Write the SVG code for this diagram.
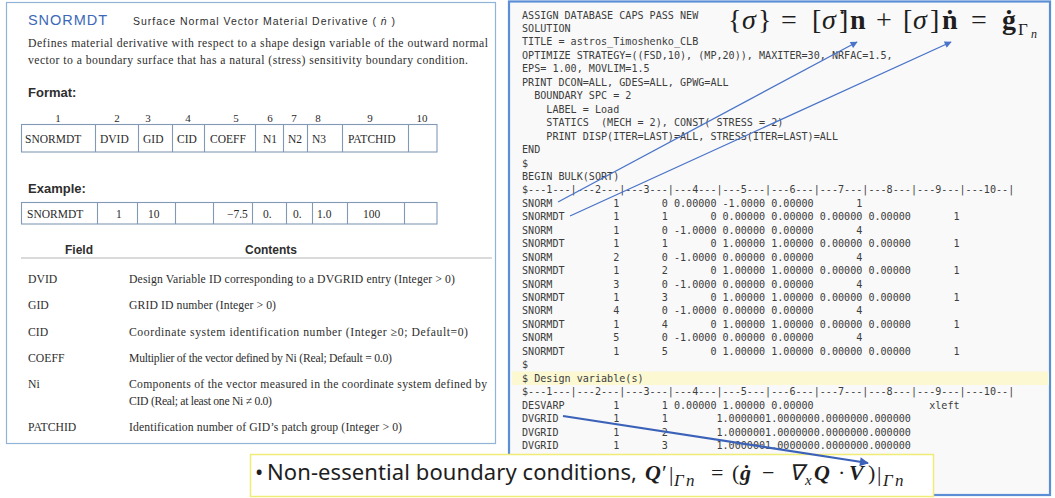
<svg xmlns="http://www.w3.org/2000/svg" width="1055" height="498" viewBox="0 0 1055 498">
<defs>
<style>
.serif{font-family:"Liberation Serif","Times New Roman",serif;fill:#2e2e2e}
.sans{font-family:"Liberation Sans",Arial,sans-serif;fill:#2e2e2e}
.row{font-family:"Liberation Serif","Times New Roman",serif;font-size:11.7px;fill:#2e2e2e}
.cell{font-family:"Liberation Serif","Times New Roman",serif;font-size:11.5px;fill:#2a2a2a}
.num{font-family:"Liberation Serif","Times New Roman",serif;font-size:11px;fill:#2a2a2a}
.tbl{fill:none;stroke:#8199b4;stroke-width:1.1}
.mono{font-family:"DejaVu Sans Mono","Liberation Mono",monospace;font-size:10.1px;fill:#3d3d3d;white-space:pre}
.math{font-family:"Liberation Serif","Times New Roman",serif;fill:#1e1e1e}
.bi{font-weight:bold;font-style:italic}
.it{font-style:italic}
.conn{fill:none;stroke:#4a74c8;stroke-width:1.3}
.conn2{fill:none;stroke:#3b62b8;stroke-width:2.2}
</style>
<marker id="ah" viewBox="0 0 10 10" refX="9" refY="5" markerWidth="9" markerHeight="7" orient="auto" markerUnits="userSpaceOnUse">
<path d="M0,0 L10,5 L0,10 z" fill="#4a74c8"/>
</marker>
<marker id="ah2" viewBox="0 0 10 10" refX="9" refY="5" markerWidth="12" markerHeight="9" orient="auto" markerUnits="userSpaceOnUse">
<path d="M0,0 L10,5 L0,10 z" fill="#3b62b8"/>
</marker>
<clipPath id="codeclip"><rect x="510" y="2" width="540" height="452"/></clipPath>
</defs>

<g id="left-panel">
<rect x="6.5" y="2.5" width="489" height="441" fill="#ffffff" stroke="#8fb4d6" stroke-width="1.2"/>
<text x="28" y="25" class="sans" font-size="14.5" style="fill:#3d68b8" textLength="79">SNORMDT</text>
<text x="133" y="25" class="sans" font-size="10.5" textLength="262">Surface Normal Vector Material Derivative ( <tspan font-style="italic">ṅ</tspan> )</text>
<text x="28" y="47" class="serif" font-size="11.7" textLength="460">Defines material derivative with respect to a shape design variable of the outward normal</text>
<text x="28" y="63.5" class="serif" font-size="11.7" textLength="440">vector to a boundary surface that has a natural (stress) sensitivity boundary condition.</text>
<text x="28" y="97" class="sans" font-size="13" font-weight="bold">Format:</text>
<g class="num" text-anchor="middle">
<text x="58" y="122">1</text><text x="117" y="122">2</text><text x="148" y="122">3</text><text x="188" y="122">4</text><text x="236" y="122">5</text><text x="270" y="122">6</text><text x="294" y="122">7</text><text x="318" y="122">8</text><text x="370" y="122">9</text><text x="422" y="122">10</text>
</g>
<rect class="tbl" x="21.5" y="124.5" width="415.5" height="27.5"/>
<path class="tbl" d="M95.5,124.5V152M138.5,124.5V152M172.5,124.5V152M204.5,124.5V152M255.5,124.5V152M283.5,124.5V152M307.5,124.5V152M342.5,124.5V152M408.5,124.5V152"/>
<g class="cell">
<text x="25" y="143">SNORMDT</text><text x="100" y="143">DVID</text><text x="143" y="143">GID</text><text x="177" y="143">CID</text><text x="210" y="143">COEFF</text><text x="263" y="143">N1</text><text x="288" y="143">N2</text><text x="312" y="143">N3</text><text x="348" y="143">PATCHID</text>
</g>
<text x="28" y="193" class="sans" font-size="13" font-weight="bold">Example:</text>
<rect class="tbl" x="21.5" y="202.5" width="415.5" height="21.5"/>
<path class="tbl" d="M97.5,202.5V224M137.5,202.5V224M175.5,202.5V224M213.5,202.5V224M252.5,202.5V224M286.5,202.5V224M312.5,202.5V224M347.5,202.5V224M404.5,202.5V224"/>
<g class="cell">
<text x="27" y="218">SNORMDT</text><text x="116" y="218">1</text><text x="148" y="218">10</text><text x="227" y="218">−7.5</text><text x="263" y="218">0.</text><text x="293" y="218">0.</text><text x="317" y="218">1.0</text><text x="363" y="218">100</text>
</g>
<text x="65" y="254" class="sans" font-size="12" font-weight="bold">Field</text>
<text x="245" y="254" class="sans" font-size="12" font-weight="bold">Contents</text>
<line x1="21" y1="258" x2="492" y2="258" stroke="#b5b5b5" stroke-width="1.2"/>
<g class="row">
<text x="28" y="283">DVID</text><text x="129" y="283" textLength="326">Design Variable ID corresponding to a DVGRID entry (Integer &gt; 0)</text>
<text x="28" y="309">GID</text><text x="129" y="309" textLength="147">GRID ID number (Integer &gt; 0)</text>
<text x="28" y="336">CID</text><text x="129" y="336" textLength="339">Coordinate system identification number (Integer ≥0; Default=0)</text>
<text x="28" y="362">COEFF</text><text x="129" y="362" textLength="263">Multiplier of the vector defined by Ni (Real; Default = 0.0)</text>
<text x="28" y="388">Ni</text><text x="129" y="388" textLength="358">Components of the vector measured in the coordinate system defined by</text>
<text x="129" y="405" textLength="143">CID (Real; at least one Ni ≠ 0.0)</text>
<text x="28" y="431">PATCHID</text><text x="129" y="431" textLength="273">Identification number of GID’s patch group (Integer &gt; 0)</text>
</g>
</g>

<g id="code-panel">
<rect x="509" y="1.5" width="541" height="493.5" fill="#f9f9f9" stroke="#5a8fd6" stroke-width="2.2"/>
<rect x="512" y="371.5" width="537" height="13.5" fill="#fbf8d2"/>
<g clip-path="url(#codeclip)">
<text class="mono" xml:space="preserve">
<tspan x="522" y="18.5">ASSIGN DATABASE CAPS PASS NEW</tspan>
<tspan x="522" y="32">SOLUTION</tspan>
<tspan x="522" y="45.4">TITLE = astros_Timoshenko_CLB</tspan>
<tspan x="522" y="58.9">OPTIMIZE STRATEGY=((FSD,10), (MP,20)), MAXITER=30, NRFAC=1.5,</tspan>
<tspan x="522" y="72.3">EPS= 1.00, MOVLIM=1.5</tspan>
<tspan x="522" y="85.8">PRINT DCON=ALL, GDES=ALL, GPWG=ALL</tspan>
<tspan x="522" y="99.2">  BOUNDARY SPC = 2</tspan>
<tspan x="522" y="112.7">    LABEL = Load</tspan>
<tspan x="522" y="126.1">    STATICS  (MECH = 2), CONST( STRESS = 2)</tspan>
<tspan x="522" y="139.6">    PRINT DISP(ITER=LAST)=ALL, STRESS(ITER=LAST)=ALL</tspan>
<tspan x="522" y="153">END</tspan>
<tspan x="522" y="166.5">$</tspan>
<tspan x="522" y="179.9">BEGIN BULK(SORT)</tspan>
<tspan x="522" y="193.4">$---1---|---2---|---3---|---4---|---5---|---6---|---7---|---8---|---9---|---10--|</tspan>
<tspan x="522" y="206.8">SNORM          1       0 0.00000 -1.0000 0.00000       1</tspan>
<tspan x="522" y="220.3">SNORMDT        1       1       0 0.00000 0.00000 0.00000 0.00000       1</tspan>
<tspan x="522" y="233.7">SNORM          1       0 -1.0000 0.00000 0.00000       4</tspan>
<tspan x="522" y="247.2">SNORMDT        1       1       0 1.00000 1.00000 0.00000 0.00000       1</tspan>
<tspan x="522" y="260.6">SNORM          2       0 -1.0000 0.00000 0.00000       4</tspan>
<tspan x="522" y="274.1">SNORMDT        1       2       0 1.00000 1.00000 0.00000 0.00000       1</tspan>
<tspan x="522" y="287.5">SNORM          3       0 -1.0000 0.00000 0.00000       4</tspan>
<tspan x="522" y="301">SNORMDT        1       3       0 1.00000 1.00000 0.00000 0.00000       1</tspan>
<tspan x="522" y="314.4">SNORM          4       0 -1.0000 0.00000 0.00000       4</tspan>
<tspan x="522" y="327.9">SNORMDT        1       4       0 1.00000 1.00000 0.00000 0.00000       1</tspan>
<tspan x="522" y="341.3">SNORM          5       0 -1.0000 0.00000 0.00000       4</tspan>
<tspan x="522" y="354.8">SNORMDT        1       5       0 1.00000 1.00000 0.00000 0.00000       1</tspan>
<tspan x="522" y="368.2">$</tspan>
<tspan x="522" y="381.7">$ Design variable(s)</tspan>
<tspan x="522" y="395.1">$---1---|---2---|---3---|---4---|---5---|---6---|---7---|---8---|---9---|---10--|</tspan>
<tspan x="522" y="408.6">DESVARP        1       1 0.00000 1.00000 0.00000                   xleft</tspan>
<tspan x="522" y="422">DVGRID         1       1        1.0000001.0000000.0000000.000000</tspan>
<tspan x="522" y="435.5">DVGRID         1       2        1.0000001.0000000.0000000.000000</tspan>
<tspan x="522" y="448.9">DVGRID         1       3        1.0000001.0000000.0000000.000000</tspan>
</text>
</g>
</g>

<g id="formula-top" class="math" font-size="28">
<text y="29">
<tspan x="728">{</tspan><tspan x="742" class="it">σ</tspan><tspan x="758">}</tspan>
<tspan x="781">=</tspan>
<tspan x="812">[</tspan><tspan x="822" class="it">σ̇</tspan><tspan x="839">]</tspan><tspan x="850" font-weight="bold">n</tspan>
<tspan x="876">+</tspan>
<tspan x="903">[</tspan><tspan x="913" class="it">σ</tspan><tspan x="930">]</tspan><tspan x="942" font-weight="bold">ṅ</tspan>
<tspan x="971">=</tspan>
<tspan x="1002" font-weight="bold">ġ</tspan>
</text>
<text x="1018" y="35" font-size="17">Γ</text>
<text x="1031" y="38" font-size="12" class="it">n</text>
</g>

<g id="note-box">
<rect x="250.5" y="454.5" width="683" height="42" fill="#ffffff" stroke="#f0ec78" stroke-width="1.5"/>
<text x="255" y="480" font-family="'Noto Sans','Liberation Sans',sans-serif" font-size="22" fill="#1e1e1e">•</text>
<text x="267" y="480" font-family="'Noto Sans','Liberation Sans',sans-serif" font-size="22" fill="#1e1e1e" textLength="370">Non-essential boundary conditions,</text>
<text class="math" font-size="22">
<tspan x="645" y="480" class="bi">Q</tspan><tspan x="662" y="480">′</tspan><tspan x="669" y="481">|</tspan>
<tspan x="674" y="486" font-size="17" class="it">Γ</tspan><tspan x="686" y="486" font-size="17" class="it">n</tspan>
<tspan x="711" y="480">=</tspan>
<tspan x="732" y="480">(</tspan><tspan x="740" y="480" class="bi">ġ</tspan>
<tspan x="762" y="480">−</tspan>
<tspan x="789" y="480" class="it">∇</tspan><tspan x="805" y="485" font-size="15" class="it">x</tspan>
<tspan x="814" y="480" class="bi">Q</tspan>
<tspan x="838" y="480">·</tspan>
<tspan x="849" y="480" class="bi">V</tspan>
<tspan x="868" y="480">)</tspan><tspan x="877" y="481">|</tspan>
<tspan x="883" y="486" font-size="17" class="it">Γ</tspan><tspan x="895" y="486" font-size="17" class="it">n</tspan>
</text>
</g>

<g id="connectors">
<line class="conn" x1="558" y1="202" x2="857" y2="42" marker-end="url(#ah)"/>
<line class="conn" x1="570" y1="216" x2="951" y2="42" marker-end="url(#ah)"/>
<line class="conn2" x1="563" y1="416" x2="868" y2="463" marker-end="url(#ah2)"/>
</g>
</svg>
